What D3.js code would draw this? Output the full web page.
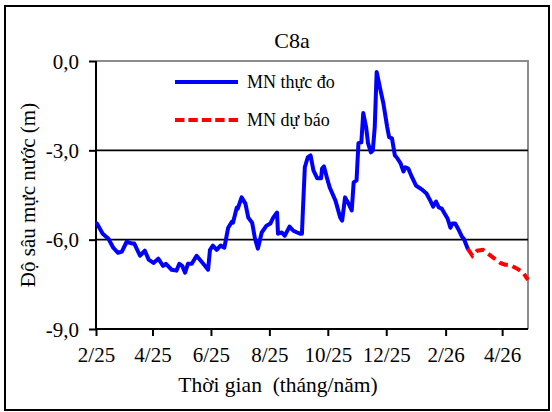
<!DOCTYPE html>
<html>
<head>
<meta charset="utf-8">
<script src="https://cdn.jsdelivr.net/npm/d3@7"></script>
<style>
  body { margin: 0; background: #fff; }
  svg { display: block; }
</style>
</head>
<body>
<svg id="chart" width="552" height="412"></svg>
<script>
// chart data
const chartTitle = "C8a";
const yAxisTitle = "Độ sâu mực nước (m)";
const xAxisTitle = "Thời gian  (tháng/năm)";
const seriesNames = ["MN thực đo", "MN dự báo"];

const measuredDates = [
  "2025-02-02","2025-02-08","2025-02-14","2025-02-19","2025-02-24","2025-02-28",
  "2025-03-05","2025-03-11","2025-03-13","2025-03-19","2025-03-24","2025-03-28",
  "2025-04-02","2025-04-07","2025-04-12","2025-04-15","2025-04-21","2025-04-26",
  "2025-04-29","2025-05-02","2025-05-05","2025-05-08","2025-05-12","2025-05-17",
  "2025-05-24","2025-05-29","2025-05-31","2025-06-03","2025-06-07","2025-06-11",
  "2025-06-15","2025-06-18","2025-06-19","2025-06-23","2025-06-24","2025-06-28",
  "2025-06-29","2025-07-03","2025-07-07","2025-07-10","2025-07-14","2025-07-17",
  "2025-07-20","2025-07-24","2025-07-29","2025-08-02","2025-08-05","2025-08-09",
  "2025-08-10","2025-08-14","2025-08-17","2025-08-22","2025-08-26","2025-08-30",
  "2025-09-02","2025-09-04","2025-09-05","2025-09-07","2025-09-10","2025-09-13",
  "2025-09-16","2025-09-20","2025-09-24","2025-09-25","2025-09-27","2025-09-30",
  "2025-10-03","2025-10-09","2025-10-14","2025-10-16","2025-10-19","2025-10-22",
  "2025-10-26","2025-10-28","2025-10-31","2025-11-02","2025-11-05","2025-11-07",
  "2025-11-10","2025-11-12","2025-11-15","2025-11-17","2025-11-19","2025-11-21",
  "2025-11-25","2025-11-28","2025-12-02","2025-12-04","2025-12-07","2025-12-10",
  "2025-12-12","2025-12-16","2025-12-19","2025-12-21","2025-12-24","2025-12-28",
  "2026-01-01","2026-01-07","2026-01-12","2026-01-16","2026-01-19","2026-01-22",
  "2026-01-25","2026-01-28","2026-02-03","2026-02-06","2026-02-08","2026-02-11",
  "2026-02-14","2026-02-18","2026-02-20","2026-02-24"
];
const measuredValues = [
  -5.46,-5.80,-5.97,-6.27,-6.44,-6.40,
  -6.07,-6.13,-6.13,-6.54,-6.37,-6.67,
  -6.78,-6.64,-6.88,-6.81,-7.01,-7.04,
  -6.81,-6.88,-7.11,-6.81,-6.81,-6.54,
  -6.81,-7.01,-6.34,-6.20,-6.34,-6.20,
  -6.27,-5.76,-5.60,-5.39,-5.43,-4.92,
  -4.96,-4.58,-4.79,-5.26,-5.43,-5.97,
  -6.30,-5.76,-5.53,-5.46,-5.26,-5.09,
  -5.80,-5.76,-5.87,-5.56,-5.70,-5.76,
  -5.80,-5.80,-5.02,-3.57,-3.24,-3.17,
  -3.67,-3.94,-3.94,-3.61,-3.54,-3.91,
  -4.25,-4.69,-5.26,-5.36,-4.58,-4.75,
  -5.02,-4.08,-4.01,-2.76,-2.73,-1.75,
  -2.22,-2.76,-3.07,-3.00,-2.22,-0.37,
  -0.98,-1.42,-2.22,-2.56,-2.60,-3.17,
  -3.24,-3.44,-3.71,-3.57,-3.61,-3.91,
  -4.18,-4.31,-4.45,-4.69,-4.89,-4.72,
  -4.92,-4.96,-5.29,-5.60,-5.46,-5.46,
  -5.63,-5.90,-5.97,-6.30
];

const forecastDates = [
  "2026-02-24","2026-03-01","2026-03-06","2026-03-12","2026-03-16","2026-03-23",
  "2026-03-30","2026-04-04","2026-04-09","2026-04-17","2026-04-23","2026-04-28"
];
const forecastValues = [
  -6.30,-6.54,-6.37,-6.34,-6.44,-6.61,
  -6.78,-6.84,-6.84,-6.98,-7.11,-7.35
];

const xTickDates = ["2025-02-01","2025-04-01","2025-06-01","2025-08-01","2025-10-01","2025-12-01","2026-02-01","2026-04-01"];
const xTickLabels = ["2/25","4/25","6/25","8/25","10/25","12/25","2/26","4/26"];
const xDomain = ["2025-02-01","2026-04-28"];
const yTicks = [0, -3, -6, -9];
const yDomain = [-9, 0];

const FONT = '"Liberation Serif", Tinos, serif';
const parse = d3.timeParse("%Y-%m-%d");
const measured = measuredDates.map((d, i) => ({ date: parse(d), value: measuredValues[i] }));
const forecast = forecastDates.map((d, i) => ({ date: parse(d), value: forecastValues[i] }));

const svg = d3.select("#chart");
const plot = { left: 96, right: 528, top: 61, bottom: 329 };

const x = d3.scaleTime()
  .domain(xDomain.map(parse))
  .range([plot.left, plot.right]);
const y = d3.scaleLinear()
  .domain(yDomain)
  .range([plot.bottom, plot.top]);

// outer frame
svg.append("rect")
  .attr("x", 5).attr("y", 6)
  .attr("width", 544).attr("height", 404)
  .attr("fill", "#fff")
  .attr("stroke", "#000")
  .attr("stroke-width", 2);

// plot area border (gray top/right)
svg.append("path")
  .attr("d", `M${plot.left},${plot.top}H${plot.right}V${plot.bottom}`)
  .attr("fill", "none")
  .attr("stroke", "#8c8c8c")
  .attr("stroke-width", 2);

// gridlines
svg.append("g")
  .selectAll("line")
  .data(yTicks.filter(v => v !== 0 && v !== -9))
  .join("line")
  .attr("x1", plot.left).attr("x2", plot.right)
  .attr("y1", d => y(d)).attr("y2", d => y(d))
  .attr("stroke", "#000")
  .attr("stroke-width", 1.6);

// y axis
const yAxis = d3.axisLeft(y)
  .tickValues(yTicks)
  .tickSize(7)
  .tickPadding(10)
  .tickFormat(d => d3.format(".1f")(d).replace(".", ",").replace("−", "-"));
const gy = svg.append("g")
  .attr("transform", `translate(${plot.left},0)`)
  .call(yAxis);
gy.select(".domain").attr("stroke", "#000").attr("stroke-width", 2).attr("d", `M0,${plot.top}V${plot.bottom}`);
gy.selectAll(".tick line").attr("stroke", "#000").attr("stroke-width", 2);
gy.selectAll(".tick text")
  .style("font-family", FONT)
  .style("font-size", "21px")
  .attr("fill", "#000")
  .attr("dy", "0.34em");

// x axis
const xAxis = d3.axisBottom(x)
  .tickValues(xTickDates.map(parse))
  .tickSize(7)
  .tickPadding(11)
  .tickFormat((d, i) => xTickLabels[i]);
const gx = svg.append("g")
  .attr("transform", `translate(0,${plot.bottom})`)
  .call(xAxis);
gx.select(".domain").attr("stroke", "#000").attr("stroke-width", 2).attr("d", `M${plot.left},0H${plot.right}`);
gx.selectAll(".tick line").attr("stroke", "#000").attr("stroke-width", 2);
gx.selectAll(".tick text")
  .style("font-family", FONT)
  .style("font-size", "21px")
  .attr("fill", "#000");

// series lines
const line = d3.line()
  .x(d => x(d.date))
  .y(d => y(d.value));

svg.append("path")
  .datum(measured)
  .attr("d", line)
  .attr("fill", "none")
  .attr("stroke", "#0000ff")
  .attr("stroke-width", 4)
  .attr("stroke-linejoin", "round")
  .attr("stroke-linecap", "round");

svg.append("path")
  .datum(forecast)
  .attr("d", line)
  .attr("fill", "none")
  .attr("stroke", "#ff0000")
  .attr("stroke-width", 4)
  .attr("stroke-dasharray", "9,5");

// legend
const legend = svg.append("g");
const legendItems = [
  { name: seriesNames[0], color: "#0000ff", dash: null, y: 82 },
  { name: seriesNames[1], color: "#ff0000", dash: "9.4,4", y: 120 }
];
legendItems.forEach(it => {
  legend.append("line")
    .attr("x1", 175).attr("x2", 238)
    .attr("y1", it.y).attr("y2", it.y)
    .attr("stroke", it.color)
    .attr("stroke-width", 4)
    .attr("stroke-dasharray", it.dash);
  legend.append("text")
    .attr("x", 247).attr("y", it.y + 6)
    .style("font-family", FONT)
    .style("font-size", "18px")
    .text(it.name);
});

// titles
svg.append("text")
  .attr("x", 292).attr("y", 48)
  .attr("text-anchor", "middle")
  .style("font-family", FONT)
  .style("font-size", "22px")
  .text(chartTitle);

svg.append("text")
  .attr("x", 278).attr("y", 392)
  .attr("text-anchor", "middle")
  .style("font-family", FONT)
  .style("font-size", "21.5px")
  .style("white-space", "pre")
  .text(xAxisTitle);

svg.append("text")
  .attr("transform", "translate(35,195) rotate(-90)")
  .attr("text-anchor", "middle")
  .style("font-family", FONT)
  .style("font-size", "21px")
  .text(yAxisTitle);
</script>
</body>
</html>
